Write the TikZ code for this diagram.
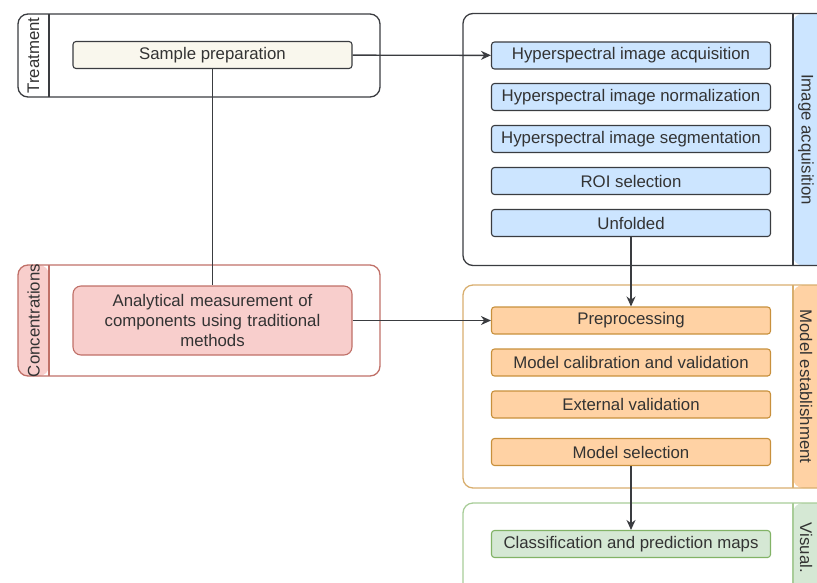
\documentclass[tikz,border=0pt]{standalone}
\usepackage{fontspec}
\setmainfont{Liberation Sans}
\usetikzlibrary{arrows.meta,positioning}
\definecolor{hsgray}{HTML}{3A3C40}
\definecolor{hstext}{HTML}{333333}
\definecolor{hscream}{HTML}{F9F7ED}
\definecolor{hsblue}{HTML}{CCE5FF}
\definecolor{hspink}{HTML}{F8CECC}
\definecolor{hsred}{HTML}{C07068}
\definecolor{hsorange}{HTML}{FFD2A4}
\definecolor{hsbrown}{HTML}{C8903C}
\definecolor{hstan}{HTML}{D8AE6E}
\definecolor{hsgreen}{HTML}{D5E8D4}
\definecolor{hsdkgreen}{HTML}{82B366}
\definecolor{hsltgreen}{HTML}{A8CC98}
\tikzstyle{arrow} = [line width=1.4pt,-{Stealth[length=10pt,width=9pt]},color=hsgray]
\tikzstyle{link} = [line width=1.4pt,color=hsgray]
\tikzstyle{stepbox} = [rectangle, rounded corners=3pt, minimum width=279pt, minimum height=27pt, text centered, draw=hsgray, line width=1.1pt, text=hstext, font=\fontsize{16.8}{20}\selectfont]
\tikzstyle{lane} = [rectangle, rounded corners=10pt, line width=1.3pt, inner sep=0pt]
\tikzstyle{lanelabel} = [text=hstext, font=\fontsize{16.8}{20}\selectfont, inner sep=0pt]
\tikzset{
  leftstrip/.style 2 args={path picture={
    \fill[#1] (path picture bounding box.north west) rectangle ([xshift=31pt]path picture bounding box.south west);
    \draw[#2, line width=2pt] ([xshift=31pt]path picture bounding box.north west) -- ([xshift=31pt]path picture bounding box.south west);}},
  rightstrip/.style 2 args={path picture={
    \fill[#1] ([xshift=-37pt]path picture bounding box.north east) rectangle (path picture bounding box.south east);
    \draw[#2, line width=2pt] ([xshift=-37pt]path picture bounding box.north east) -- ([xshift=-37pt]path picture bounding box.south east);}}
}

\begin{document}
\begin{tikzpicture}[x=1pt, y=-1pt]
    \useasboundingbox (0,0) rectangle (817,582);

    % Lanes
    \node[lane, draw=hsgray, minimum width=362pt, minimum height=83pt, leftstrip={white}{hsgray}] (treat) at (199,55.5) {};
    \node[lane, draw=hsred, minimum width=362pt, minimum height=111pt, leftstrip={hspink}{hsred}] (conc) at (199,320.5) {};
    \node[lane, draw=hsgray, minimum width=367pt, minimum height=252pt, rightstrip={hsblue}{hsgray}] (acq) at (646.5,139.5) {};
    \node[lane, draw=hstan, minimum width=367pt, minimum height=203pt, rightstrip={hsorange}{hstan}] (model) at (646.5,386.5) {};
    \node[lane, draw=hsltgreen, minimum width=367pt, minimum height=110pt, rightstrip={hsgreen}{hsltgreen}] (visual) at (646.5,558) {};

    % Lane labels
    \node[lanelabel, rotate=90] (treatlbl) at (33.5,55.5) {Treatment};
    \node[lanelabel, rotate=90] (conclbl) at (33.5,320.5) {Concentrations};
    \node[lanelabel, rotate=-90] (acqlbl) at (806,139.5) {Image acquisition};
    \node[lanelabel, rotate=-90] (modellbl) at (806,386.5) {Model establishment};
    \node[lanelabel, rotate=-90] (visuallbl) at (806,548) {Visual.};

    % Nodes
    \node[stepbox, fill=hscream] (prep) at (212.5,55) {Sample preparation};
    \node[stepbox, fill=hspink, draw=hsred, rounded corners=8pt, minimum height=69pt, text width=255pt, align=center] (meas) at (212.5,320.5) {Analytical measurement of\\components using traditional\\methods};

    \node[stepbox, fill=hsblue] (hsia) at (631,55.5) {Hyperspectral image acquisition};
    \node[stepbox, fill=hsblue] (hsin) at (631,97) {Hyperspectral image normalization};
    \node[stepbox, fill=hsblue] (hsis) at (631,139) {Hyperspectral image segmentation};
    \node[stepbox, fill=hsblue] (roi) at (631,181) {ROI selection};
    \node[stepbox, fill=hsblue] (unf) at (631,223) {Unfolded};

    \node[stepbox, fill=hsorange, draw=hsbrown] (prepro) at (631,320.5) {Preprocessing};
    \node[stepbox, fill=hsorange, draw=hsbrown] (calib) at (631,362.5) {Model calibration and validation};
    \node[stepbox, fill=hsorange, draw=hsbrown] (extval) at (631,404.5) {External validation};
    \node[stepbox, fill=hsorange, draw=hsbrown] (msel) at (631,452) {Model selection};

    \node[stepbox, fill=hsgreen, draw=hsdkgreen] (maps) at (631,544) {Classification and prediction maps};

    % Arrows
    \draw[link] (prep) -- (meas);
    \draw[arrow] (prep) -- (hsia);
    \draw[arrow] (meas) -- (prepro);
    \draw[arrow] (unf) -- (prepro);
    \draw[arrow] (msel) -- (maps);
\end{tikzpicture}
\end{document}
